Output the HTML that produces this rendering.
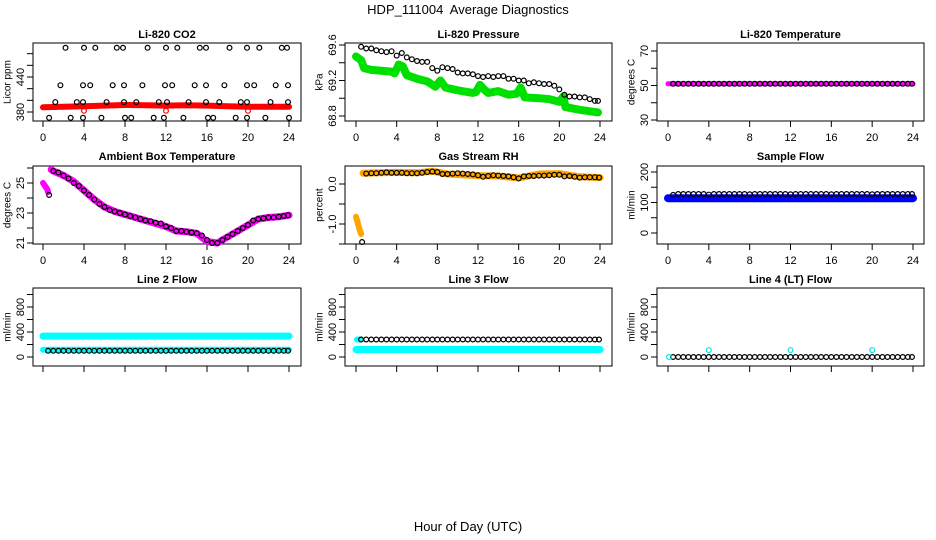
<!DOCTYPE html>
<html><head><meta charset="utf-8">
<style>
html,body{margin:0;padding:0;background:#fff;}
svg{display:block;font-family:"Liberation Sans",sans-serif;}
</style></head>
<body>
<svg id="chart" width="936" height="540" viewBox="0 0 936 540">
<text x="468" y="14" text-anchor="middle" font-size="13" style="white-space:pre">HDP_111004  Average Diagnostics</text>
<text x="468" y="531" text-anchor="middle" font-size="13">Hour of Day (UTC)</text>
</svg>
<script>
// ---- data ----
const xTicks = [0,4,8,12,16,20,24];

// CO2
const co2TopH = [2.2,4.0,5.1,7.2,7.8,10.2,12.0,13.1,15.3,15.9,18.2,19.9,21.1,23.3,23.8];
const co2TopV = [490,490,490,490,490,490,490,490,490,490,490,490,490,490,490];
const co2MidH = [1.7,3.9,4.6,6.8,7.9,9.7,11.9,12.6,14.8,15.9,17.7,19.9,20.6,22.7,23.9];
const co2MidV = [426,426,426,426,426,426,426,426,426,426,426,426,426,426,426];
const co2LowH = [1.2,3.3,3.9,6.2,7.9,9.1,11.3,12.1,14.2,15.9,17.2,19.3,19.9,22.2,23.9];
const co2LowV = [397,397,397,397,397,397,397,397,397,397,397,397,397,397,397];
const co2BotH = [0.6,2.7,3.9,5.7,8.0,8.6,10.8,11.8,13.7,16.1,16.6,18.8,19.9,21.7,24.0];
const co2BotV = [370,370,370,370,370,370,370,370,370,370,370,370,370,370,370];
const co2RedH = [0,2,4,6,8,10,12,14,16,18,20,22,24];
const co2RedV = [388,389,390,391,392,391.5,391,391.5,391,390,389,389,389];
const co2RedPtsH = [4,12,20];
const co2RedPtsV = [382,382,382];

// Pressure
const presBlackH = [0.5,1,1.5,2,2.5,3,3.5,4,4.5,5,5.5,6,6.5,7,7.5,8,8.5,9,9.5,10,10.5,11,11.5,12,12.5,13,13.5,14,14.5,15,15.5,16,16.5,17,17.5,18,18.5,19,19.5,20,20.5,21,21.5,22,22.5,23,23.5,23.8];
const presBlackV = [69.58,69.56,69.56,69.54,69.53,69.52,69.53,69.48,69.51,69.46,69.44,69.42,69.41,69.41,69.34,69.31,69.35,69.34,69.33,69.29,69.28,69.28,69.27,69.25,69.24,69.25,69.24,69.25,69.25,69.22,69.22,69.2,69.2,69.17,69.18,69.17,69.16,69.16,69.14,69.1,69.04,69.02,69.02,69.01,69.01,68.99,68.97,68.97];
const presGreenH = [0,0.5,0.8,1.5,2.5,3.5,3.8,4.2,4.6,5,6,7,7.8,8.3,8.8,10,11.5,11.8,12.2,12.6,13,14,15,15.8,16.2,16.6,18,19,20,20.4,20.6,22,23.8];
const presGreenV = [69.47,69.43,69.34,69.32,69.31,69.3,69.28,69.38,69.36,69.26,69.22,69.19,69.13,69.2,69.12,69.09,69.06,69.07,69.15,69.1,69.06,69.08,69.04,69.05,69.12,69.01,69.0,68.99,68.96,69.02,68.9,68.87,68.84];

// Li-820 temperature
const ltH = [0.5,1,1.5,2,2.5,3,3.5,4,4.5,5,5.5,6,6.5,7,7.5,8,8.5,9,9.5,10,10.5,11,11.5,12,12.5,13,13.5,14,14.5,15,15.5,16,16.5,17,17.5,18,18.5,19,19.5,20,20.5,21,21.5,22,22.5,23,23.5,23.9];
const ltBlackV = [51,51,51,51,51,51,51,51,51,51,51,51,51,51,51,51,51,51,51,51,51,51,51,51,51,51,51,51,51,51,51,51,51,51,51,51,51,51,51,51,51,51,51,51,51,51,51,51];
const ltMagH = [0,24];
const ltMagV = [51,51];

// Ambient box temperature
const ambMagH1 = [0,0.2,0.4,0.5];
const ambMagV1 = [25.0,24.8,24.6,24.4];
const ambMagH2 = [0.8,1,2,3,4,5,6,7,8,9,10,11,12,13,14,15,16,17,18,19,20,21,22,23,24];
const ambMagV2 = [25.9,25.8,25.5,25.1,24.5,23.9,23.4,23.1,22.9,22.7,22.5,22.3,22.1,21.8,21.75,21.65,21.1,21.0,21.4,21.8,22.2,22.6,22.7,22.75,22.85];
const ambBlackH = [0.6,1,1.5,2,2.5,3,3.5,4,4.5,5,5.5,6,6.5,7,7.5,8,8.5,9,9.5,10,10.5,11,11.5,12,12.5,13,13.5,14,14.5,15,15.5,16,16.5,17,17.5,18,18.5,19,19.5,20,20.5,21,21.5,22,22.5,23,23.5,23.9];
const ambBlackV = [24.2,25.8,25.7,25.5,25.3,25.0,24.8,24.5,24.2,23.9,23.6,23.4,23.2,23.1,23.0,22.9,22.8,22.7,22.6,22.5,22.45,22.35,22.3,22.1,22.0,21.8,21.8,21.75,21.7,21.65,21.5,21.2,21.0,21.0,21.2,21.4,21.6,21.8,22.0,22.2,22.5,22.6,22.65,22.7,22.7,22.75,22.8,22.85];

// Gas stream RH
const rhOrH1 = [0,0.15,0.3,0.5];
const rhOrV1 = [-0.82,-0.95,-1.1,-1.25];
const rhOrH2 = [0.7,2,4,6,7.5,9,12,14,16,18,20,22,24];
const rhOrV2 = [0.27,0.28,0.29,0.28,0.32,0.25,0.21,0.2,0.15,0.25,0.26,0.18,0.16];
const rhBlackH = [0.6,1,1.5,2,2.5,3,3.5,4,4.5,5,5.5,6,6.5,7,7.5,8,8.5,9,9.5,10,10.5,11,11.5,12,12.5,13,13.5,14,14.5,15,15.5,16,16.5,17,17.5,18,18.5,19,19.5,20,20.5,21,21.5,22,22.5,23,23.5,23.9];
const rhBlackV = [-1.45,0.26,0.27,0.27,0.28,0.29,0.28,0.28,0.28,0.27,0.27,0.27,0.28,0.3,0.31,0.3,0.25,0.25,0.26,0.27,0.26,0.25,0.24,0.22,0.18,0.2,0.22,0.21,0.2,0.19,0.17,0.14,0.19,0.2,0.2,0.21,0.21,0.22,0.23,0.23,0.19,0.2,0.18,0.16,0.17,0.17,0.17,0.16];

// Sample flow
const sfBlackV = [125,128,128,128,128,128,128,126,128,128,128,128,128,128,128,127,128,128,128,128,128,128,128,127,128,128,128,128,128,128,128,127,128,128,128,128,128,128,128,127,128,128,128,128,128,128,128,128];
const sfBlueH = [0,24];
const sfBlueV = [114,114];

// Line 2 flow
const l2CyanHiH = [0,24];
const l2CyanHiV = [335,335];
const l2CyanLoH = [0,24];
const l2CyanLoV = [115,115];
const l2BlackV = [100,100,100,100,100,100,100,100,100,100,100,100,100,100,100,100,100,100,100,100,100,100,100,100,100,100,100,100,100,100,100,100,100,100,100,100,100,100,100,100,100,100,100,100,100,100,100,100];

// Line 3 flow
const l3CyanHiH = [0.1,0.5];
const l3CyanHiV = [280,280];
const l3CyanLoH = [0,24];
const l3CyanLoV = [120,120];
const l3BlackV = [280,280,280,280,280,280,280,280,280,280,280,280,280,280,280,280,280,280,280,280,280,280,280,280,280,280,280,280,280,280,280,280,280,280,280,280,280,280,280,280,280,280,280,280,280,280,280,280];

// Line 4 flow
const l4BlackV = [0,0,0,0,0,0,0,0,0,0,0,0,0,0,0,0,0,0,0,0,0,0,0,0,0,0,0,0,0,0,0,0,0,0,0,0,0,0,0,0,0,0,0,0,0,0,0,0];
const l4CyanH = [0.1,4,12,20];
const l4CyanV = [0,110,110,110];

// ---- layout ----
const NS = 'http://www.w3.org/2000/svg';
const svg = document.getElementById('chart');
const cols = [{l:33,r:301,x0:43,x24:289},{l:345,r:612,x0:356,x24:600},{l:657,r:924,x0:668,x24:913}];
const rows = [{t:43,b:121,ty:38},{t:166,b:244,ty:160},{t:288,b:366,ty:283}];

function el(tag, attrs, parent){
  const e = document.createElementNS(NS, tag);
  for (const k in attrs) e.setAttribute(k, attrs[k]);
  (parent||svg).appendChild(e);
  return e;
}

function makePanel(ci, ri, title, ylab, v1, p1, v2, p2, yticks, ylabels, showXLabels, key){
  const c = cols[ci], r = rows[ri];
  const g = el('g', {});
  
  
  const sx = h => c.x0 + (h/24)*(c.x24 - c.x0);
  const sy = v => p1 + (v - v1)*(p2 - p1)/(v2 - v1);
  const t = el('text', {x:(c.l+c.r)/2, y:r.ty, 'text-anchor':'middle','font-size':11,'font-weight':'bold'}, g);
  t.textContent = title;
  
  
  const box = el('rect', {x:c.l, y:r.t, width:c.r-c.l, height:r.b-r.t, fill:'none', stroke:'#000','stroke-width':1}, g);
  
  
  const xa = el('g', {}, g);
  
  
  el('line', {x1:sx(0), x2:sx(24), y1:r.b, y2:r.b, stroke:'#000'}, xa);
  xTicks.forEach(h => {
    el('line', {x1:sx(h), x2:sx(h), y1:r.b, y2:r.b+6, stroke:'#000'}, xa);
    if (showXLabels) {
      const tl = el('text', {x:sx(h), y:r.b+20, 'text-anchor':'middle','font-size':11}, xa);
      tl.textContent = h;
    }
  });
  const ya = el('g', {}, g);
  
  
  el('line', {x1:c.l, x2:c.l, y1:sy(yticks[0]), y2:sy(yticks[yticks.length-1]), stroke:'#000'}, ya);
  yticks.forEach(v => {
    el('line', {x1:c.l-6, x2:c.l, y1:sy(v), y2:sy(v), stroke:'#000'}, ya);
  });
  ylabels.forEach(v => {
    const yy = sy(Number(v));
    const tl = el('text', {x:c.l-13, y:yy, 'text-anchor':'middle','font-size':11, transform:`rotate(-90 ${c.l-13} ${yy})`, dy:'0.35em'}, ya);
    tl.textContent = v;
  });
  const yt = el('text', {x:c.l-26, y:(r.t+r.b)/2, 'text-anchor':'middle','font-size':10, transform:`rotate(-90 ${c.l-26} ${(r.t+r.b)/2})`, dy:'0.35em'}, g);
  yt.textContent = ylab;
  
  
  return {g, sx, sy};
}

function band(P, hs, vs, color, w, name){
  const d = hs.map((h,i)=> (i?'L':'M') + P.sx(h).toFixed(1) + ',' + P.sy(vs[i]).toFixed(1)).join(' ');
  const p = el('path', {d, fill:'none', stroke:color, 'stroke-width':w, 'stroke-linecap':'round','stroke-linejoin':'round'}, P.g);
  
  
}
function pts(P, hs, vs, color, name, rad){
  const g = el('g', {}, P.g);
  
  
  hs.forEach((h,i) => {
    el('circle', {cx:P.sx(h).toFixed(1), cy:P.sy(vs[i]).toFixed(1), r:rad||2.4, fill:'none', stroke:color, 'stroke-width':1.2}, g);
  });
}

let P = makePanel(0,0,'Li-820 CO2','Licor ppm',380,112,440,77,[380,400,420,440,460,480],['380','440'],true,'co2');
band(P, co2RedH, co2RedV, '#ff0000', 6, 'co2-red-series');
pts(P, co2RedPtsH, co2RedPtsV, '#ff0000', 'co2-red-points');
pts(P, co2TopH, co2TopV, '#000', 'co2-black-top');
pts(P, co2MidH, co2MidV, '#000', 'co2-black-mid');
pts(P, co2LowH, co2LowV, '#000', 'co2-black-low');
pts(P, co2BotH, co2BotV, '#000', 'co2-black-bottom');

P = makePanel(1,0,'Li-820 Pressure','kPa',69.6,45,68.8,116,[68.8,69.0,69.2,69.4,69.6],['68.8','69.2','69.6'],true,'pressure');
band(P, presGreenH, presGreenV, '#00e000', 8, 'pressure-green-series');
pts(P, presBlackH, presBlackV, '#000', 'pressure-black-series');

P = makePanel(2,0,'Li-820 Temperature','degrees C',70,51,30,120,[30,40,50,60,70],['30','50','70'],true,'li-temp');
band(P, ltMagH, ltMagV, '#ff00ff', 5, 'li-temp-magenta-series');
pts(P, ltH, ltBlackV, '#000', 'li-temp-black-series');

P = makePanel(0,1,'Ambient Box Temperature','degrees C',25,183,21,243,[21,22,23,24,25,26],['21','23','25'],true,'ambient');
band(P, ambMagH1, ambMagV1, '#ff00ff', 6, 'ambient-magenta-early');
band(P, ambMagH2, ambMagV2, '#ff00ff', 7, 'ambient-magenta-series');
pts(P, ambBlackH, ambBlackV, '#000', 'ambient-black-series');

P = makePanel(1,1,'Gas Stream RH','percent',0,184,-1,224,[-1.5,-1.0,-0.5,0.0],['-1.0','0.0'],true,'rh');
band(P, rhOrH1, rhOrV1, '#ffa500', 6, 'rh-orange-early');
band(P, rhOrH2, rhOrV2, '#ffa500', 7, 'rh-orange-series');
pts(P, rhBlackH, rhBlackV, '#000', 'rh-black-series');

P = makePanel(2,1,'Sample Flow','ml/min',200,172,0,233,[0,50,100,150,200],['0','100','200'],true,'sample-flow');
band(P, sfBlueH, sfBlueV, '#0000ff', 8, 'sample-flow-blue-series');
pts(P, ltH, sfBlackV, '#000', 'sample-flow-black-series');

P = makePanel(0,2,'Line 2 Flow','ml/min',0,357,800,307,[0,200,400,600,800,1000],['0','400','800'],false,'line2');
band(P, l2CyanHiH, l2CyanHiV, '#00ffff', 7, 'line2-cyan-high');
band(P, l2CyanLoH, l2CyanLoV, '#00ffff', 6, 'line2-cyan-low');
pts(P, ltH, l2BlackV, '#000', 'line2-black-series');

P = makePanel(1,2,'Line 3 Flow','ml/min',0,357,800,307,[0,200,400,600,800,1000],['0','400','800'],false,'line3');
band(P, l3CyanLoH, l3CyanLoV, '#00ffff', 7, 'line3-cyan-low');
band(P, l3CyanHiH, l3CyanHiV, '#00ffff', 6, 'line3-cyan-high');
pts(P, ltH, l3BlackV, '#000', 'line3-black-series');

P = makePanel(2,2,'Line 4 (LT) Flow','ml/min',0,357,800,307,[0,200,400,600,800,1000],['0','400','800'],false,'line4');
pts(P, ltH, l4BlackV, '#000', 'line4-black-series');
pts(P, l4CyanH, l4CyanV, '#00e5e5', 'line4-cyan-points');
</script>
</body></html>
